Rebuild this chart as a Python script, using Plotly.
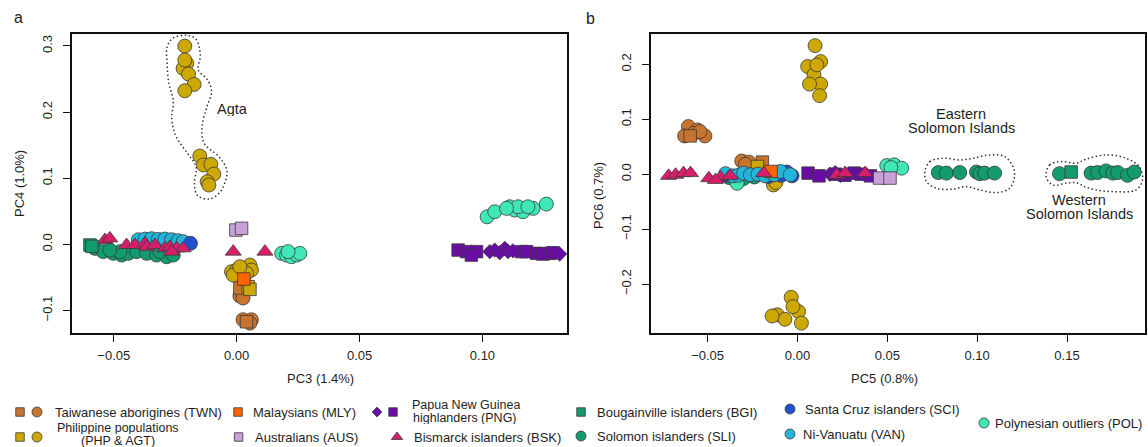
import plotly.graph_objects as go

# ---------------- colours ----------------
COL_TWN = "#C8732E"
COL_PHP = "#CCA800"
COL_MLY = "#FF6400"
COL_AUS = "#C9A0DA"
COL_PNG = "#6A0DA8"
COL_BSK = "#D81E6A"
COL_BGI = "#119B6E"
COL_SLI = "#119B6E"
COL_SCI = "#1E50D2"
COL_VAN = "#22B5DC"
COL_POL = "#3FE8B6"

# ---------------- panel a : PC3 vs PC4 ----------------
a_twn_sq_x = [0.0013, 0.0040]
a_twn_sq_y = [-0.066, -0.117]
a_twn_ci_x = [0.0013, 0.0026, 0.0060, 0.0026, 0.0054]
a_twn_ci_y = [-0.078, -0.081, -0.114, -0.114, -0.119]
a_php_ci_x = [-0.0211, -0.0203, -0.0218, -0.0196, -0.0173, -0.0211, -0.0211,
              -0.0150, -0.0135, -0.0105, -0.0093, -0.0120, -0.0113,
              -0.0021, 0.0000, 0.0026, 0.0054, 0.0060, -0.0014, 0.0040, 0.0013]
a_php_ci_y = [0.2997, 0.2736, 0.2660, 0.2574, 0.2418, 0.2322, 0.2786,
              0.1335, 0.1199, 0.1209, 0.1063, 0.0947, 0.0897,
              -0.0414, -0.0388, -0.0363, -0.0313, -0.0388, -0.0464, -0.0438, -0.0338]
a_php_sq_x = [0.0047, 0.0054]
a_php_sq_y = [-0.064, -0.068]
a_mly_x = [0.0029]
a_mly_y = [-0.0524]
a_aus_x = [-0.0003, 0.0020]
a_aus_y = [0.0216, 0.0242]
a_png_sq_x = [0.0901, 0.0935, 0.0976, 0.0955, 0.1159, 0.1179, 0.1220, 0.1246, 0.1274, 0.1287]
a_png_sq_y = [-0.0086, -0.0110, -0.0110, -0.0162, -0.0110, -0.0110, -0.0136, -0.0146, -0.0136, -0.0127]
a_png_di_x = [0.1030, 0.1050, 0.1070, 0.1091, 0.1104, 0.1124, 0.1314]
a_png_di_y = [-0.0110, -0.0086, -0.0127, -0.0060, -0.0110, -0.0097, -0.0146]
a_bsk_x = [-0.0536, -0.0516, -0.0448, -0.0414, -0.0373, -0.0366, -0.0333, -0.0292,
           -0.0272, -0.0244, -0.0218, -0.0265, -0.0014, 0.0115]
a_bsk_y = [0.0065, 0.0090, -0.0010, -0.0010, 0.0015, -0.0036, -0.0010, -0.0060,
           -0.0036, -0.0060, -0.0060, -0.0110, -0.0110, -0.0110]
a_bgi_x = [-0.0597, -0.0589]
a_bgi_y = [-0.0010, -0.0030]
a_sli_x = [-0.0577, -0.0543, -0.0502, -0.0468, -0.0441, -0.0407, -0.0366, -0.0326,
           -0.0285, -0.0258, -0.0475, -0.0312, -0.0516]
a_sli_y = [-0.0060, -0.0110, -0.0136, -0.0162, -0.0136, -0.0110, -0.0136, -0.0162,
           -0.0187, -0.0162, -0.0110, -0.0110, -0.0086]
a_sci_x = [-0.0188]
a_sci_y = [0.0015]
a_van_x = [-0.0400, -0.0373, -0.0346, -0.0319, -0.0292, -0.0265, -0.0238, -0.0218]
a_van_y = [0.0070, 0.0080, 0.0085, 0.0075, 0.0080, 0.0070, 0.0055, 0.0040]
a_pol_x = [0.0183, 0.0203, 0.0223, 0.0244, 0.0257, 0.0209,
           0.1019, 0.1050, 0.1111, 0.1131, 0.1165, 0.1206, 0.1260, 0.1145, 0.1185, 0.1098]
a_pol_y = [-0.0136, -0.0162, -0.0187, -0.0162, -0.0136, -0.0110,
           0.0417, 0.0493, 0.0568, 0.0518, 0.0493, 0.0544, 0.0609, 0.0568, 0.0568, 0.0544]

# outline around the Agta samples (panel a)
agta_outline_x = [-0.0203, -0.0166, -0.0148, -0.0156, -0.0118, -0.0102, -0.0121, -0.0141,
                  -0.0132, -0.0072, -0.0040, -0.0048, -0.0072, -0.0113, -0.0160, -0.0172,
                  -0.0165, -0.0200, -0.0246, -0.0264, -0.0258, -0.0276, -0.0283, -0.0283,
                  -0.0259, -0.0203]
agta_outline_y = [0.3159, 0.3103, 0.2861, 0.2635, 0.2484, 0.2307, 0.2081, 0.1778,
                  0.1526, 0.1325, 0.1123, 0.0932, 0.0771, 0.0685, 0.0740, 0.0922,
                  0.1174, 0.1375, 0.1627, 0.1879, 0.2181, 0.2433, 0.2736, 0.2987,
                  0.3118, 0.3159]

# ---------------- panel b : PC5 vs PC6 ----------------
b_twn_ci_x = [-0.0607, -0.0556, -0.0515, -0.0628, -0.0577, -0.0542, -0.0310, -0.0270, -0.0290]
b_twn_ci_y = [0.0867, 0.0806, 0.0697, 0.0697, 0.0745, 0.0776, 0.0240, 0.0220, 0.0180]
b_twn_sq_x = [-0.0597, -0.0195]
b_twn_sq_y = [0.0697, 0.0220]
b_php_ci_x = [0.0098, 0.0129, 0.0057, 0.0092, 0.0129, 0.0067, 0.0123, 0.0108,
              -0.0035, -0.0112, -0.0070, 0.0006, 0.0022, -0.0025, -0.0141,
              -0.0134, -0.0120]
b_php_ci_y = [0.2340, 0.2050, 0.1960, 0.1810, 0.1640, 0.1640, 0.1430, 0.1990,
              -0.2240, -0.2560, -0.2640, -0.2500, -0.2710, -0.2410, -0.2580,
              -0.0195, -0.0150]
b_php_sq_x = [-0.0223]
b_php_sq_y = [0.0140]
b_mly_x = [-0.0147]
b_mly_y = [0.0050]
b_aus_x = [0.0457, 0.0515]
b_aus_y = [-0.0070, -0.0070]
b_png_sq_x = [0.0059, 0.0120, 0.0212, 0.0264, 0.0315, 0.0355, 0.0406]
b_png_sq_y = [0.0020, -0.0030, 0.0000, -0.0020, 0.0020, 0.0000, -0.0030]
b_png_di_x = [0.0180, 0.0210, 0.0240]
b_png_di_y = [0.0000, 0.0030, -0.0020]
b_bsk_x = [-0.0717, -0.0678, -0.0634, -0.0595, -0.0493, -0.0428, -0.0373, -0.0456,
           -0.0188, 0.0219, 0.0265, 0.0376]
b_bsk_y = [-0.0030, -0.0010, 0.0020, 0.0020, -0.0073, -0.0055, -0.0030, -0.0104,
           0.0020, -0.0010, 0.0020, 0.0020]
b_bgi_x = [0.1523]
b_bgi_y = [0.0040]
b_sli_x = [-0.0380, -0.0300, -0.0240,
           0.0784, 0.0829, 0.0903, 0.0996, 0.1014, 0.1042, 0.1097,
           0.1458, 0.1634, 0.1670, 0.1717, 0.1754, 0.1782, 0.1837, 0.1874]
b_sli_y = [-0.0060, -0.0080, -0.0050,
           0.0030, 0.0020, 0.0030, 0.0040, 0.0010, 0.0020, 0.0020,
           0.0010, 0.0020, 0.0030, 0.0060, 0.0020, 0.0030, -0.0020, 0.0040]
b_sci_x = [-0.0060, -0.0030, -0.0090, -0.0400, -0.0160]
b_sci_y = [0.0040, -0.0030, -0.0020, -0.0020, -0.0040]
b_van_x = [-0.0400, -0.0360, -0.0330, -0.0299, -0.0262, -0.0220, -0.0180,
           -0.0130, -0.0095, -0.0040]
b_van_y = [0.0010, -0.0030, -0.0020, 0.0020, -0.0010, 0.0000, -0.0030,
           -0.0010, 0.0050, -0.0010]
b_pol_x = [-0.0336, 0.0497, 0.0538, 0.0580, 0.0520]
b_pol_y = [-0.0164, 0.0158, 0.0170, 0.0110, 0.0120]

east_outline_x = [0.0709, 0.0737, 0.0811, 0.0903, 0.0977, 0.1070, 0.1153, 0.1199,
                  0.1208, 0.1181, 0.1107, 0.1014, 0.0940, 0.0866, 0.0774, 0.0718, 0.0709]
east_outline_y = [0.0047, 0.0229, 0.0291, 0.0260, 0.0291, 0.0351, 0.0320, 0.0138,
                  -0.0044, -0.0255, -0.0335, -0.0285, -0.0225, -0.0273, -0.0255, -0.0135, 0.0047]
west_outline_x = [0.1384, 0.1403, 0.1467, 0.1551, 0.1606, 0.1717, 0.1828, 0.1902,
                  0.1920, 0.1884, 0.1754, 0.1662, 0.1597, 0.1551, 0.1495, 0.1421, 0.1384]
west_outline_y = [-0.0044, 0.0169, 0.0229, 0.0200, 0.0273, 0.0351, 0.0291, 0.0138,
                  -0.0104, -0.0285, -0.0316, -0.0285, -0.0225, -0.0153, -0.0164, -0.0195, -0.0044]

# ---------------- axes / ticks ----------------
a_x_ticks = [-0.05, 0.0, 0.05, 0.10]
a_x_labels = ["\u22120.05", "0.00", "0.05", "0.10"]
a_y_ticks = [-0.1, 0.0, 0.1, 0.2, 0.3]
a_y_labels = ["\u22120.1", "0.0", "0.1", "0.2", "0.3"]
b_x_ticks = [-0.05, 0.0, 0.05, 0.10, 0.15]
b_x_labels = ["\u22120.05", "0.00", "0.05", "0.10", "0.15"]
b_y_ticks = [-0.2, -0.1, 0.0, 0.1, 0.2]
b_y_labels = ["\u22120.2", "\u22120.1", "0.0", "0.1", "0.2"]

FONT = "Liberation Sans, Arial, sans-serif"
TXT = "#1e1e1e"
EDGE = dict(color="#3a3a3a", width=0.8)

W, H = 1148, 447

fig = go.Figure()


def pts(x, y, color, symbol, size, xa, ya):
    fig.add_trace(go.Scatter(
        x=x, y=y, mode="markers", xaxis=xa, yaxis=ya, showlegend=False,
        hoverinfo="skip", cliponaxis=True,
        marker=dict(color=color, symbol=symbol, size=size, line=EDGE, opacity=1)))


CI, SQ, TR, DI = 14, 12.5, 14, 11

# panel a (drawing order)
pts(a_sli_x, a_sli_y, COL_SLI, "circle", CI, "x", "y")
pts(a_van_x, a_van_y, COL_VAN, "circle", CI, "x", "y")
pts(a_sci_x, a_sci_y, COL_SCI, "circle", CI, "x", "y")
pts(a_bsk_x, a_bsk_y, COL_BSK, "triangle-up", TR, "x", "y")
pts(a_bgi_x, a_bgi_y, COL_BGI, "square", SQ, "x", "y")
pts(a_pol_x, a_pol_y, COL_POL, "circle", CI, "x", "y")
pts(a_png_sq_x, a_png_sq_y, COL_PNG, "square", SQ, "x", "y")
pts(a_png_di_x, a_png_di_y, COL_PNG, "diamond", DI, "x", "y")
pts(a_aus_x, a_aus_y, COL_AUS, "square", SQ, "x", "y")
pts(a_twn_ci_x, a_twn_ci_y, COL_TWN, "circle", CI, "x", "y")
pts(a_twn_sq_x, a_twn_sq_y, COL_TWN, "square", SQ, "x", "y")
pts(a_php_ci_x, a_php_ci_y, COL_PHP, "circle", CI, "x", "y")
pts(a_php_sq_x, a_php_sq_y, COL_PHP, "square", SQ, "x", "y")
pts(a_mly_x, a_mly_y, COL_MLY, "square", SQ, "x", "y")

# panel b
pts(b_sli_x, b_sli_y, COL_SLI, "circle", CI, "x2", "y2")
pts(b_bgi_x, b_bgi_y, COL_BGI, "square", SQ, "x2", "y2")
pts(b_pol_x, b_pol_y, COL_POL, "circle", CI, "x2", "y2")
pts(b_twn_ci_x, b_twn_ci_y, COL_TWN, "circle", CI, "x2", "y2")
pts(b_twn_sq_x, b_twn_sq_y, COL_TWN, "square", SQ, "x2", "y2")
pts(b_php_ci_x, b_php_ci_y, COL_PHP, "circle", CI, "x2", "y2")
pts(b_php_sq_x, b_php_sq_y, COL_PHP, "square", SQ, "x2", "y2")
pts(b_png_sq_x, b_png_sq_y, COL_PNG, "square", SQ, "x2", "y2")
pts(b_png_di_x, b_png_di_y, COL_PNG, "diamond", DI, "x2", "y2")
pts(b_aus_x, b_aus_y, COL_AUS, "square", SQ, "x2", "y2")
pts(b_sci_x, b_sci_y, COL_SCI, "circle", CI, "x2", "y2")
pts(b_van_x, b_van_y, COL_VAN, "circle", CI, "x2", "y2")
pts(b_mly_x, b_mly_y, COL_MLY, "square", SQ, "x2", "y2")
pts(b_bsk_x, b_bsk_y, COL_BSK, "triangle-up", TR, "x2", "y2")

# dotted outlines
for ox, oy, xa, ya in [(agta_outline_x, agta_outline_y, "x", "y"),
                       (east_outline_x, east_outline_y, "x2", "y2"),
                       (west_outline_x, west_outline_y, "x2", "y2")]:
    fig.add_trace(go.Scatter(
        x=ox, y=oy, mode="lines", xaxis=xa, yaxis=ya, showlegend=False,
        hoverinfo="skip",
        line=dict(color="#333333", width=1.5, dash="1.5px,2.5px", shape="spline", smoothing=1.0)))

# ---------------- custom legend (pixel coordinates on overlay axis) ----------------
leg_sym_x = [20, 37, 238, 377, 393, 581, 790, 984, 20, 37, 238.6, 397, 581, 790]
leg_sym_y = [412, 412, 412, 412, 412, 412, 409, 423, 437, 437, 437, 437, 436, 434]
leg_sym_c = [COL_TWN, COL_TWN, COL_MLY, COL_PNG, COL_PNG, COL_BGI, COL_SCI, COL_POL,
             COL_PHP, COL_PHP, COL_AUS, COL_BSK, COL_SLI, COL_VAN]
leg_sym_s = ["square", "circle", "square", "diamond", "square", "square", "circle", "circle",
             "square", "circle", "square", "triangle-up", "circle", "circle"]
leg_sym_z = [8.5, 10, 8.5, 7.5, 8.5, 8.5, 10, 10, 8.5, 10, 8.5, 10, 10, 10]

fig.add_trace(go.Scatter(
    x=leg_sym_x, y=leg_sym_y, mode="markers", xaxis="x3", yaxis="y3", showlegend=False,
    hoverinfo="skip", cliponaxis=False,
    marker=dict(color=leg_sym_c, symbol=leg_sym_s, size=leg_sym_z, opacity=1,
                line=dict(color="#3a3a3a", width=0.8))))

leg_text = ["Taiwanese aborigines (TWN)", "Malaysians (MLY)", "Bougainville islanders (BGI)",
            "Santa Cruz islanders (SCI)", "Polynesian outliers (POL)",
            "Australians (AUS)", "Bismarck islanders (BSK)", "Solomon islanders (SLI)",
            "Ni-Vanuatu (VAN)"]
leg_text_x = [53, 251, 595, 803, 993, 252.7, 411.8, 595, 801]
leg_text_y = [412, 412, 412, 409, 423, 437, 437, 436, 434]

annotations = []
for t, x, y in zip(leg_text, leg_text_x, leg_text_y):
    annotations.append(dict(text=t, x=x, y=y, xref="x3", yref="y3", xanchor="left",
                            yanchor="middle", showarrow=False,
                            font=dict(family=FONT, size=13, color=TXT)))
# two-line legend labels
for t, x, y in [("Papua New Guinea", 466, 404.5), ("highlanders (PNG)", 465, 417.5),
                ("Philippine populations", 117.5, 428), ("(PHP & AGT)", 117.5, 440.5)]:
    annotations.append(dict(text=t, x=x, y=y, xref="x3", yref="y3", xanchor="center",
                            yanchor="middle", showarrow=False, height=12, valign="middle",
                            font=dict(family=FONT, size=12.5, color=TXT)))

# panel letters and axis titles
for t, x, y, ang, sz in [("a", 18, 17, 0, 16), ("b", 590, 18, 0, 16),
                         ("PC3 (1.4%)", 320, 378, 0, 13), ("PC5 (0.8%)", 884, 378, 0, 13),
                         ("PC4 (1.0%)", 19, 184, -90, 13), ("PC6 (0.7%)", 598, 196, -90, 13)]:
    annotations.append(dict(text=t, x=x, y=y, xref="x3", yref="y3", xanchor="center",
                            yanchor="middle", showarrow=False, textangle=ang,
                            font=dict(family=FONT, size=sz, color=TXT)))

# in-plot labels
for t, x, y, xa, ya in [("Agta", -0.0018, 0.204, "x", "y"),
                        ("Eastern", 0.0911, 0.1105, "x2", "y2"),
                        ("Solomon Islands", 0.0911, 0.0850, "x2", "y2"),
                        ("Western", 0.1568, -0.0475, "x2", "y2"),
                        ("Solomon Islands", 0.1568, -0.0730, "x2", "y2")]:
    annotations.append(dict(text=t, x=x, y=y, xref=xa, yref=ya, xanchor="center",
                            yanchor="middle", showarrow=False, height=14, valign="middle",
                            font=dict(family=FONT, size=14.5, color=TXT)))

# ---------------- layout ----------------
def px_dom_x(p0, p1):
    return [p0 / W, p1 / W]


def px_dom_y(top, bottom):
    return [1 - bottom / H, 1 - top / H]


axis_common = dict(showline=True, mirror=True, linecolor="#111111", linewidth=1.6,
                   ticks="outside", ticklen=7, tickwidth=1.2, tickcolor="#111111",
                   showgrid=False, zeroline=False,
                   tickfont=dict(family=FONT, size=13, color=TXT))

fig.update_layout(
    width=W, height=H, margin=dict(l=0, r=0, t=0, b=0),
    paper_bgcolor="white", plot_bgcolor="rgba(0,0,0,0)", showlegend=False,
    xaxis=dict(domain=px_dom_x(72, 567), range=[-0.067, 0.1344], tickvals=a_x_ticks,
               ticktext=a_x_labels, anchor="y", ticklabelstandoff=3, **axis_common),
    yaxis=dict(domain=px_dom_y(34, 333), range=[-0.134, 0.318], tickvals=a_y_ticks,
               ticktext=a_y_labels, anchor="x", tickangle=-90, ticklabelstandoff=6,
               **axis_common),
    xaxis2=dict(domain=px_dom_x(651, 1145), range=[-0.0815, 0.1934], tickvals=b_x_ticks,
                ticktext=b_x_labels, anchor="y2", ticklabelstandoff=3, **axis_common),
    yaxis2=dict(domain=px_dom_y(34, 333), range=[-0.289, 0.2552], tickvals=b_y_ticks,
                ticktext=b_y_labels, anchor="x2", tickangle=-90, ticklabelstandoff=6,
                **axis_common),
    xaxis3=dict(domain=[0, 1], range=[0, W], visible=False, fixedrange=True, anchor="y3"),
    yaxis3=dict(domain=[0, 1], range=[H, 0], visible=False, fixedrange=True, anchor="x3"),
    annotations=annotations,
)

fig.write_html("out.html")
